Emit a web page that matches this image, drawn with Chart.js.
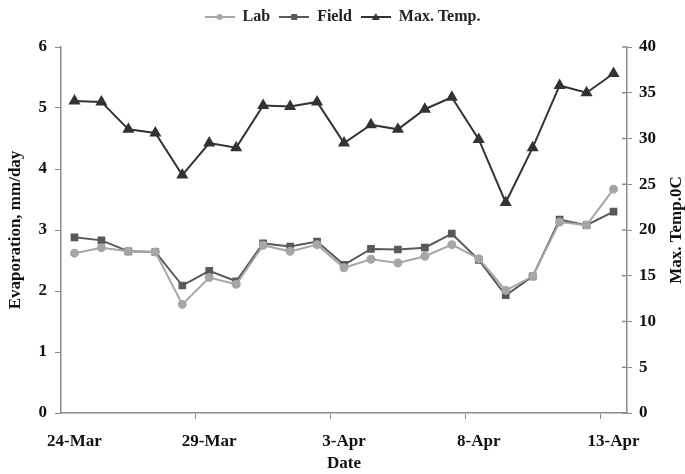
<!DOCTYPE html>
<html>
<head>
<meta charset="utf-8">
<script src="https://cdn.jsdelivr.net/npm/chart.js@4/dist/chart.umd.min.js"></script>
<style>
  html, body { margin: 0; padding: 0; background: #fff; }
  #wrap { width: 685px; height: 474px; }
</style>
</head>
<body>
<div id="wrap"><canvas id="chart" width="685" height="474"></canvas></div>
<script>
// dates on the x axis (one per day)
const dates = ['24-Mar', '25-Mar', '26-Mar', '27-Mar', '28-Mar', '29-Mar', '30-Mar', '31-Mar',
  '1-Apr', '2-Apr', '3-Apr', '4-Apr', '5-Apr', '6-Apr', '7-Apr', '8-Apr', '9-Apr', '10-Apr',
  '11-Apr', '12-Apr', '13-Apr'];

// evaporation, mm/day
const lab = [2.62, 2.71, 2.65, 2.64, 1.78, 2.22, 2.11, 2.75, 2.65, 2.76, 2.38,
  2.52, 2.46, 2.57, 2.76, 2.53, 2.01, 2.24, 3.13, 3.08, 3.67];
const field = [2.88, 2.83, 2.65, 2.64, 2.09, 2.33, 2.16, 2.78, 2.73, 2.81, 2.43,
  2.69, 2.68, 2.71, 2.94, 2.51, 1.93, 2.24, 3.17, 3.08, 3.30];

// max temperature, 0C
const maxTemp = [34.1, 34.0, 31.0, 30.6, 26.0, 29.5, 29.0, 33.6, 33.5, 34.0, 29.5,
  31.5, 31.0, 33.2, 34.5, 29.9, 23.0, 29.0, 35.8, 35.0, 37.1];

const rightTitle = 'Max. Temp.0C';

const FAMILY = '"Liberation Serif", "Times New Roman", serif';
const FONT = { family: FAMILY, weight: 'bold', size: 17 };
const AXIS = '#8c8c8c';
const TEXT = '#111';

// small legend swatch: line with the marker in the middle
function swatch(color, marker) {
  const c = document.createElement('canvas');
  c.width = 30; c.height = 10;
  const g = c.getContext('2d');
  g.strokeStyle = color; g.fillStyle = color; g.lineWidth = 2;
  g.beginPath(); g.moveTo(0, 5); g.lineTo(30, 5); g.stroke();
  g.beginPath();
  if (marker === 'circle') g.arc(15, 5, 3, 0, Math.PI * 2);
  else if (marker === 'rect') g.rect(12, 2, 6, 6);
  else { g.moveTo(15, 1); g.lineTo(19, 8); g.lineTo(11, 8); g.closePath(); }
  g.fill();
  return c;
}

// legend gets a fixed height so the plot starts where the reference does
const legendHeight = {
  id: 'legendHeight',
  beforeUpdate(chart) {
    const lg = chart.legend;
    if (lg && !lg._patched) {
      const fit = lg.fit;
      lg.fit = function () { fit.call(this); this.height = 47; };
      lg._patched = true;
    }
  }
};

// right title reads bottom to top, and right ticks cross the axis
const rightAxisExtras = {
  id: 'rightAxisExtras',
  afterDraw(chart) {
    const s = chart.scales.y1;
    const ctx = chart.ctx;
    ctx.save();
    ctx.strokeStyle = AXIS;
    ctx.lineWidth = 1.5;
    s.ticks.forEach(t => {
      const y = s.getPixelForValue(t.value);
      ctx.beginPath(); ctx.moveTo(s.left - 5, y); ctx.lineTo(s.left, y); ctx.stroke();
    });
    ctx.translate(677, (s.top + s.bottom) / 2);
    ctx.rotate(-Math.PI / 2);
    ctx.font = 'bold 17px ' + FAMILY;
    ctx.fillStyle = TEXT;
    ctx.textAlign = 'center';
    ctx.textBaseline = 'middle';
    ctx.fillText(rightTitle, 0, 0);
    ctx.restore();
  }
};

const labColor = '#a6a6a6', fieldColor = '#595959', tempColor = '#333333';

new Chart(document.getElementById('chart'), {
  type: 'line',
  data: {
    labels: dates,
    datasets: [
      { label: 'Lab', data: lab, yAxisID: 'y', borderColor: labColor, backgroundColor: labColor,
        borderWidth: 2, pointStyle: 'circle', pointRadius: 3.5, tension: 0 },
      { label: 'Field', data: field, yAxisID: 'y', borderColor: fieldColor, backgroundColor: fieldColor,
        borderWidth: 2, pointStyle: 'rect', pointRadius: 4, tension: 0 },
      { label: 'Max. Temp.', data: maxTemp, yAxisID: 'y1', borderColor: tempColor, backgroundColor: tempColor,
        borderWidth: 2, pointStyle: 'triangle', pointRadius: 5, tension: 0 }
    ]
  },
  plugins: [legendHeight, rightAxisExtras],
  options: {
    responsive: false,
    animation: false,
    layout: { padding: 0 },
    plugins: {
      tooltip: { enabled: false },
      legend: {
        position: 'top',
        labels: {
          font: { ...FONT, size: 16 },
          color: '#222',
          usePointStyle: true,
          pointStyleWidth: 30,
          boxHeight: 10,
          padding: 9,
          generateLabels: chart => chart.data.datasets.map((ds, i) => ({
            text: ds.label,
            pointStyle: swatch(ds.borderColor, ['circle', 'rect', 'triangle'][i]),
            fontColor: '#222',
            lineWidth: 0,
            strokeStyle: 'transparent',
            fillStyle: 'transparent',
            datasetIndex: i
          }))
        }
      }
    },
    scales: {
      x: {
        type: 'category',
        offset: true,
        afterFit: s => { s.height = 61; },
        border: { color: AXIS, width: 1.5 },
        grid: {
          offset: true,
          drawOnChartArea: false,
          tickLength: 6,
          color: ctx => [5, 10, 15, 20].includes(ctx.index) ? AXIS : 'transparent'
        },
        ticks: {
          autoSkip: false,
          maxRotation: 0,
          font: FONT,
          color: TEXT,
          padding: 12,
          callback: (v, i) => i % 5 === 0 ? dates[i] : ''
        },
        title: { display: true, text: 'Date', font: FONT, color: TEXT, padding: { top: 0, bottom: 0 } }
      },
      y: {
        position: 'left',
        min: 0, max: 6,
        afterFit: s => { s.width = 61; },
        border: { color: AXIS, width: 1.5 },
        grid: { drawOnChartArea: false, tickLength: 6, color: AXIS },
        ticks: { stepSize: 1, font: FONT, color: TEXT, padding: 8 },
        title: { display: true, text: 'Evaporation, mm/day', font: FONT, color: TEXT, padding: 5 }
      },
      y1: {
        position: 'right',
        min: 0, max: 40,
        afterFit: s => { s.width = 58; },
        border: { color: AXIS, width: 1.5 },
        grid: { drawOnChartArea: false, tickLength: 5, color: AXIS },
        ticks: { stepSize: 5, font: FONT, color: TEXT, padding: 7 }
      }
    }
  }
});
</script>
</body>
</html>
